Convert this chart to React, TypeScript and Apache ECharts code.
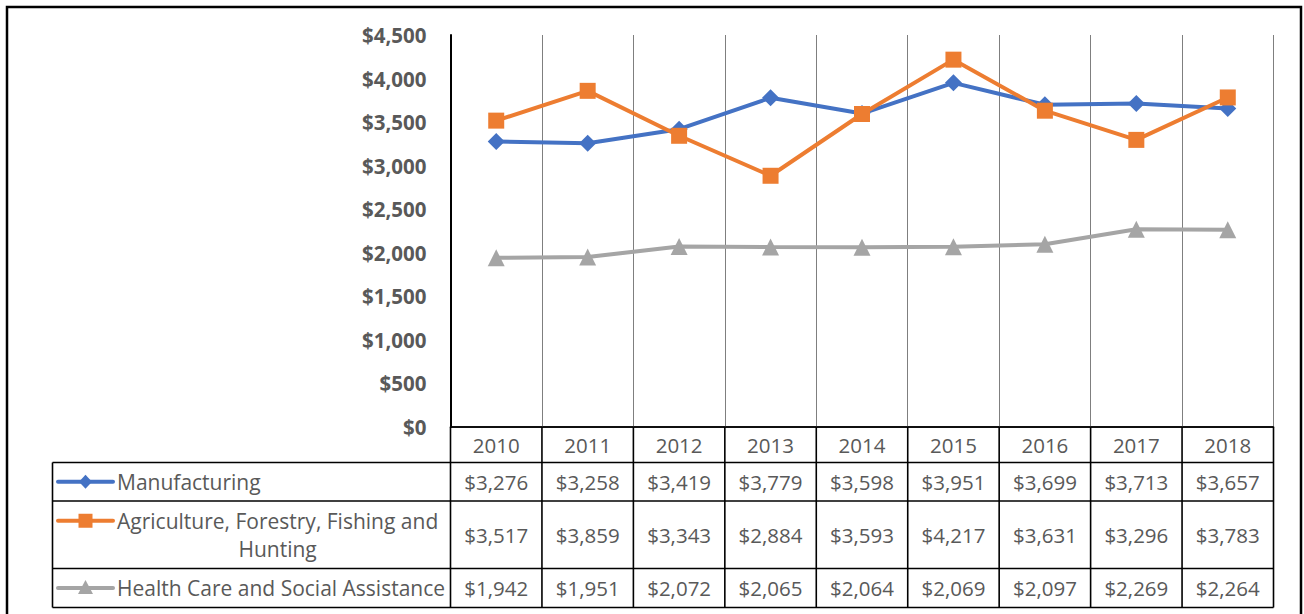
import React, { useEffect, useRef } from "react";
import * as echarts from "echarts";

const years = ["2010", "2011", "2012", "2013", "2014", "2015", "2016", "2017", "2018"];
const manufacturing = [3276, 3258, 3419, 3779, 3598, 3951, 3699, 3713, 3657];
const agriculture = [3517, 3859, 3343, 2884, 3593, 4217, 3631, 3296, 3783];
const healthCare = [1942, 1951, 2072, 2065, 2064, 2069, 2097, 2269, 2264];
const seriesNames = [
  "Manufacturing",
  "Agriculture, Forestry, Fishing and Hunting",
  "Health Care and Social Assistance",
];
const seriesColors = ["#4472C4", "#ED7D31", "#A5A5A5"];
const seriesSymbols = ["diamond", "rect", "triangle"];
const yMin = 0;
const yMax = 4500;
const yInterval = 500;

const W = 1304;
const H = 614;
const GRID_LEFT = 450.5;
const GRID_TOP = 35;
const GRID_W = 823;
const GRID_H = 392;
const TABLE_LEFT = 52.5;
const ROW_BOUNDS = [427, 462.5, 501, 568.5, 607.5];
const KEY_X0 = 58;
const KEY_X1 = 113;
const TEXT_X = 117;
const TEXT_MAX_W = 332;
const FONT = "'Open Sans', 'Liberation Sans', sans-serif";
const NAME_SIZE = 21;
const NUM_SIZE = 20.5;
const YLABEL_SIZE = 20.5;
const TEXT_COLOR = "#595959";
const LINE_H = 28;

const fmt = (v: number) => "$" + v.toLocaleString("en-US");

function wrapText(text: string, maxW: number, ctx: CanvasRenderingContext2D | null): string[] {
  if (!ctx) return [text];
  const words = text.split(" ");
  const lines: string[] = [];
  let cur = "";
  for (const w of words) {
    const t = cur ? cur + " " + w : w;
    if (ctx.measureText(t).width > maxW && cur) {
      lines.push(cur);
      cur = w;
    } else cur = t;
  }
  if (cur) lines.push(cur);
  return lines;
}

export default function App() {
  const ref = useRef<HTMLDivElement>(null);
  useEffect(() => {
    document.body.style.margin = "0";
    if (!ref.current) return;
    const chart = echarts.init(ref.current, undefined, { renderer: "svg" });
    const values = [manufacturing, agriculture, healthCare];
    const colW = GRID_W / years.length;
    const right = GRID_LEFT + GRID_W;
    const canvas = document.createElement("canvas");
    const ctx = canvas.getContext("2d");
    if (ctx) ctx.font = `${NAME_SIZE}px ${FONT}`;

    const graphics: any[] = [];
    const lineStyle = { stroke: "#000", lineWidth: 1.6 };
    graphics.push({
      type: "rect",
      shape: { x: 7, y: 7, width: 1294, height: 620 },
      style: { fill: "none", stroke: "#000", lineWidth: 2.5 },
    });
    for (let i = 0; i <= years.length; i++) {
      const x = GRID_LEFT + i * colW;
      graphics.push({
        type: "line",
        shape: { x1: x, y1: ROW_BOUNDS[0], x2: x, y2: ROW_BOUNDS[4] },
        style: lineStyle,
      });
    }
    graphics.push({
      type: "line",
      shape: { x1: TABLE_LEFT, y1: ROW_BOUNDS[1], x2: TABLE_LEFT, y2: ROW_BOUNDS[4] },
      style: lineStyle,
    });
    graphics.push({
      type: "line",
      shape: { x1: GRID_LEFT, y1: ROW_BOUNDS[0], x2: right, y2: ROW_BOUNDS[0] },
      style: lineStyle,
    });
    for (let r = 1; r < ROW_BOUNDS.length; r++) {
      graphics.push({
        type: "line",
        shape: { x1: TABLE_LEFT, y1: ROW_BOUNDS[r], x2: right, y2: ROW_BOUNDS[r] },
        style: lineStyle,
      });
    }
    seriesNames.forEach((name, s) => {
      const top = ROW_BOUNDS[s + 1];
      const bot = ROW_BOUNDS[s + 2];
      const cy = (top + bot) / 2;
      values[s].forEach((v, j) => {
        graphics.push({
          type: "text",
          x: GRID_LEFT + (j + 0.5) * colW,
          y: cy,
          style: {
            text: fmt(v),
            font: `${NUM_SIZE}px ${FONT}`,
            fill: TEXT_COLOR,
            align: "center",
            verticalAlign: "middle",
          },
        });
      });
      const lines = wrapText(name, TEXT_MAX_W, ctx);
      const maxW = ctx ? Math.max(...lines.map((l) => ctx.measureText(l).width)) : 0;
      const firstY = cy - ((lines.length - 1) * LINE_H) / 2;
      lines.forEach((l, k) => {
        graphics.push({
          type: "text",
          x: lines.length > 1 ? TEXT_X + maxW / 2 : TEXT_X,
          y: firstY + k * LINE_H,
          style: {
            text: l,
            font: `${NAME_SIZE}px ${FONT}`,
            fill: TEXT_COLOR,
            align: lines.length > 1 ? "center" : "left",
            verticalAlign: "middle",
          },
        });
      });
      const ky = firstY;
      const color = seriesColors[s];
      graphics.push({
        type: "line",
        shape: { x1: KEY_X0, y1: ky, x2: KEY_X1, y2: ky },
        style: { stroke: color, lineWidth: 4, lineCap: "round" },
      });
      const mx = (KEY_X0 + KEY_X1) / 2;
      if (seriesSymbols[s] === "diamond") {
        graphics.push({
          type: "polygon",
          shape: { points: [[mx, ky - 7], [mx + 6.5, ky], [mx, ky + 7], [mx - 6.5, ky]] },
          style: { fill: color },
        });
      } else if (seriesSymbols[s] === "rect") {
        graphics.push({
          type: "rect",
          shape: { x: mx - 7, y: ky - 7, width: 14, height: 14 },
          style: { fill: color },
        });
      } else {
        graphics.push({
          type: "polygon",
          shape: { points: [[mx, ky - 8], [mx + 7.5, ky + 6], [mx - 7.5, ky + 6]] },
          style: { fill: color },
        });
      }
    });

    chart.setOption({
      animation: false,
      textStyle: { fontFamily: FONT },
      grid: { left: GRID_LEFT, top: GRID_TOP, width: GRID_W, height: GRID_H, containLabel: false },
      xAxis: {
        type: "category",
        data: years,
        boundaryGap: true,
        axisTick: { show: false },
        axisLine: { show: true, lineStyle: { color: "#000", width: 1.6 } },
        axisLabel: {
          interval: 0,
          fontSize: NUM_SIZE,
          color: TEXT_COLOR,
          margin: 18,
          verticalAlign: "middle",
          fontFamily: FONT,
        },
        splitLine: { show: true, interval: 0, lineStyle: { color: "#7f7f7f", width: 1 } },
      },
      yAxis: {
        type: "value",
        min: yMin,
        max: yMax,
        interval: yInterval,
        axisLine: { show: true, lineStyle: { color: "#000", width: 2 } },
        axisTick: { show: false },
        splitLine: { show: false },
        axisLabel: {
          fontSize: YLABEL_SIZE,
          fontWeight: "bold",
          color: TEXT_COLOR,
          margin: 24,
          fontFamily: FONT,
          formatter: (v: number) => fmt(v),
        },
      },
      series: seriesNames.map((name, s) => ({
        name,
        type: "line",
        data: values[s],
        symbol: seriesSymbols[s],
        symbolSize: s === 1 ? 16 : 17,
        showSymbol: true,
        lineStyle: { color: seriesColors[s], width: 4 },
        itemStyle: { color: seriesColors[s] },
        z: 3 + s,
      })),
      graphic: { elements: graphics },
    });
    return () => chart.dispose();
  }, []);
  return <div ref={ref} style={{ width: W, height: H }} />;
}
